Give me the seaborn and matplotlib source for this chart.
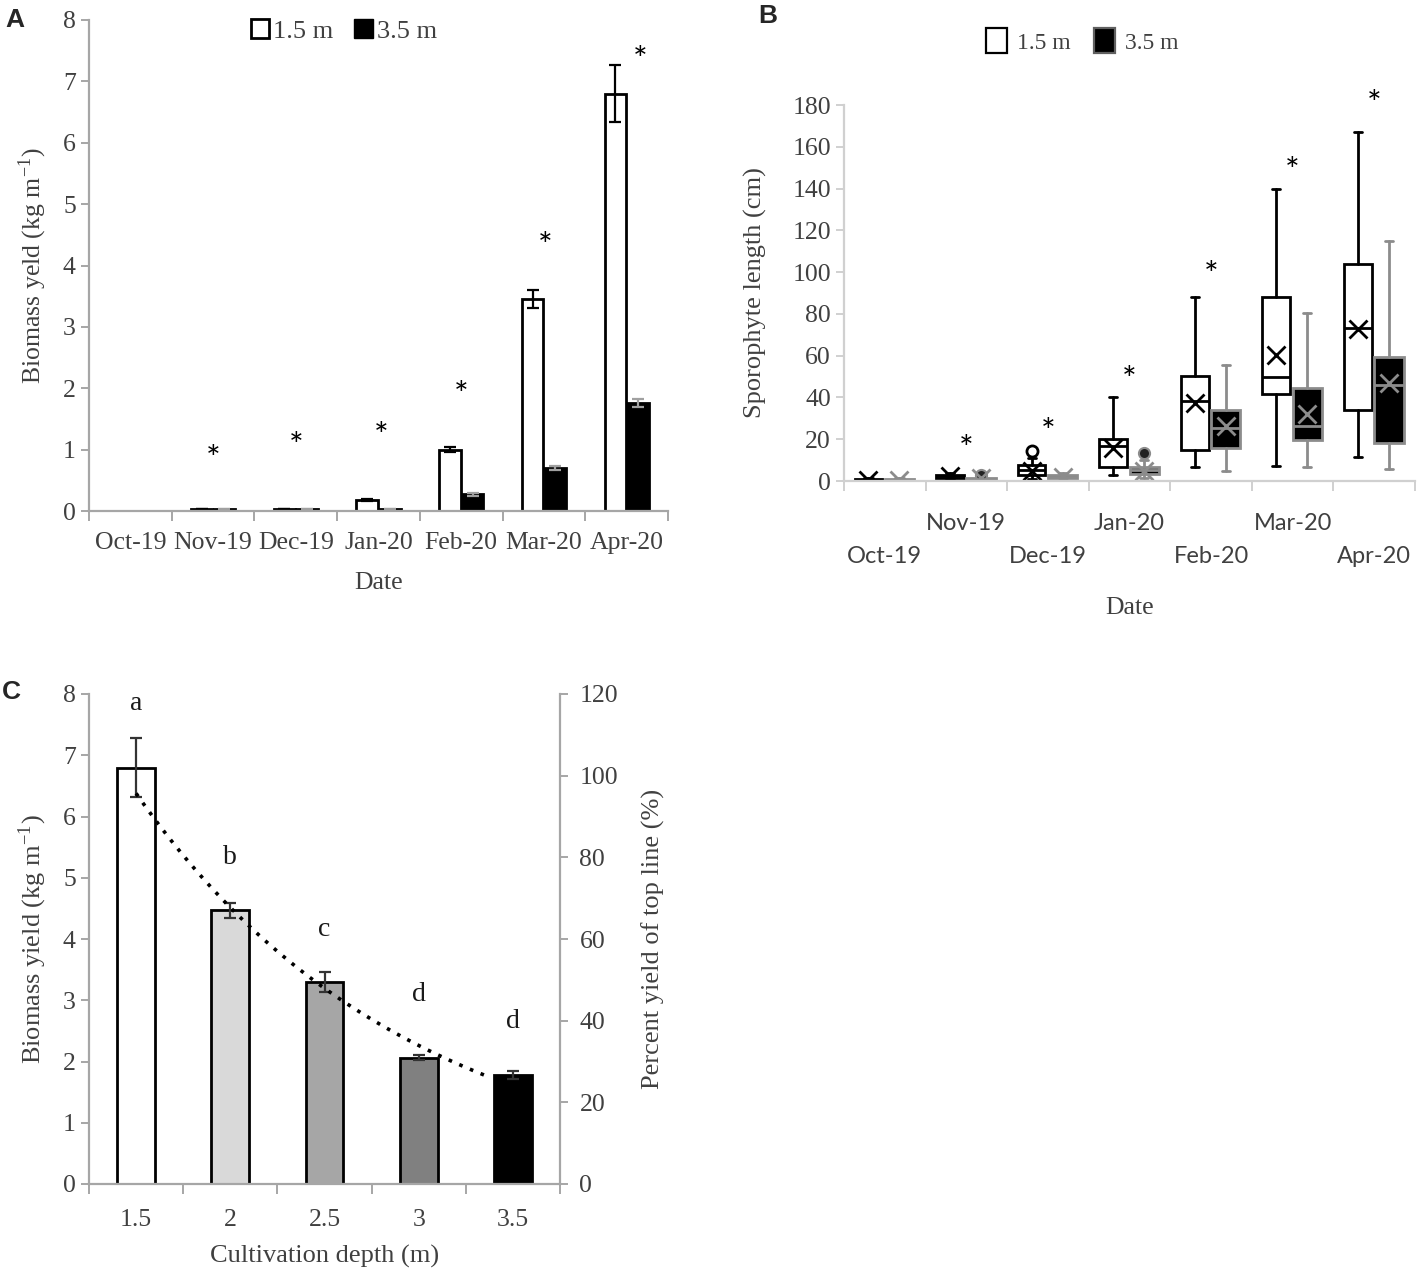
import numpy as np
import pandas as pd
import matplotlib
matplotlib.use("Agg")
import matplotlib.pyplot as plt
import seaborn as sns
from matplotlib.patches import Patch

# ---------------- data ----------------
months = ["Oct-19", "Nov-19", "Dec-19", "Jan-20", "Feb-20", "Mar-20", "Apr-20"]
depths = ["1.5 m", "3.5 m"]

# panel A: biomass yield per month (kg m-1)
yield_15 = [0.0, 0.03, 0.03, 0.18, 1.00, 3.45, 6.80]
yield_35 = [0.0, 0.03, 0.03, 0.03, 0.27, 0.70, 1.76]
err_15 = [0.0, 0.005, 0.005, 0.01, 0.04, 0.15, 0.47]
err_35 = [0.0, 0.005, 0.005, 0.005, 0.02, 0.03, 0.06]
star_a = [np.nan, 0.83, 1.05, 1.20, 1.88, 4.30, 7.33]

# panel B: sporophyte length box stats (cm)
lo_15 = [0.0, 0.5, 1.0, 2.9, 6.8, 7.3, 11.6]
q1_15 = [0.2, 1.5, 3.0, 6.5, 14.9, 41.7, 34.0]
med_15 = [0.5, 2.2, 5.4, 16.8, 38.2, 49.7, 73.2]
q3_15 = [1.0, 3.0, 7.8, 20.3, 50.5, 88.2, 104.0]
hi_15 = [1.5, 4.0, 11.0, 40.0, 88.2, 139.8, 167.0]
mean_15 = [0.7, 2.3, 5.0, 16.0, 37.5, 60.5, 73.0]
out_15 = [[], [], [14.5], [], [], [], []]

lo_35 = [0.0, 0.3, 0.5, 1.5, 4.9, 6.8, 5.7]
q1_35 = [0.2, 0.6, 1.2, 3.3, 15.7, 19.7, 18.4]
med_35 = [0.5, 1.0, 2.0, 5.2, 25.5, 26.3, 45.9]
q3_35 = [1.0, 1.5, 3.0, 6.8, 34.0, 44.6, 59.2]
hi_35 = [1.5, 2.0, 4.0, 10.0, 55.5, 80.3, 115.0]
mean_35 = [0.6, 1.2, 2.0, 5.0, 26.3, 32.2, 47.0]
out_35 = [[], [2.8], [], [13.2], [], [], []]

star_b = [np.nan, 15, 23, 48, 98, 148, 180]

# panel C: yield by cultivation depth
depth_c = ["1.5", "2", "2.5", "3", "3.5"]
yield_c = [6.80, 4.47, 3.30, 2.06, 1.78]
err_c = [0.48, 0.12, 0.16, 0.04, 0.07]
letters_c = ["a", "b", "c", "d", "d"]
letter_y = [7.85, 5.33, 4.16, 3.09, 2.66]

# ---------------- style ----------------
sns.set_theme(style="ticks")
SERIF = ["Liberation Serif", "DejaVu Serif"]
SANS = ["Lato", "DejaVu Sans"]
plt.rcParams["font.family"] = SERIF
plt.rcParams["mathtext.fontset"] = "stix"
TXT = "#404040"
SPINE = "#a6a6a6"

W, H = 1417, 1270
fig = plt.figure(figsize=(W / 100, H / 100), dpi=100)


def box(l, r, t, b):
    return [l / W, 1 - b / H, (r - l) / W, (b - t) / H]


def style_axis(ax, spine=SPINE):
    for s in ["top", "right"]:
        ax.spines[s].set_visible(False)
    for s in ["left", "bottom"]:
        ax.spines[s].set_color(spine)
        ax.spines[s].set_linewidth(1.6)
    ax.tick_params(axis="y", colors=spine, labelcolor=TXT, length=6, width=1.4)
    ax.tick_params(axis="x", which="major", length=0, labelcolor=TXT)
    ax.tick_params(axis="x", which="minor", length=7, width=1.4, color=spine)


# ---------------- panel A ----------------
axA = fig.add_axes(box(89, 668, 20, 511))
dfA = pd.DataFrame({
    "month": months * 2,
    "depth": [depths[0]] * 7 + [depths[1]] * 7,
    "yield": yield_15 + yield_35,
})
sns.barplot(data=dfA, x="month", y="yield", hue="depth", palette=["white", "black"],
            edgecolor="black", linewidth=2, width=0.55, gap=0.06, legend=False, ax=axA)
for cont, err, ec in zip(axA.containers, [err_15, err_35], ["black", "#a0a0a0"]):
    xs = [b.get_x() + b.get_width() / 2 for b in cont]
    ys = [b.get_height() for b in cont]
    axA.errorbar(xs[1:], ys[1:], yerr=err[1:], fmt="none", ecolor=ec,
                 elinewidth=1.6, capsize=4.5, capthick=1.6)
star_shift = [0, 0, 0, 0.03, 0, 0.02, 0.17]
for i, (s, dx) in enumerate(zip(star_a, star_shift)):
    if not np.isnan(s):
        axA.text(i + dx, s, "*", ha="center", va="center", fontsize=25,
                 family=SANS, color="black")
axA.set_ylim(0, 8)
axA.set_xlim(-0.5, 6.5)
axA.set_yticks(range(0, 9))
axA.set_xticks(np.arange(-0.5, 7), minor=True)
style_axis(axA)
axA.tick_params(axis="both", labelsize=18.5)
axA.tick_params(axis="x", which="major", pad=15)
axA.set_xlabel("Date", fontsize=18.5, color=TXT, labelpad=13)
axA.set_ylabel("Biomass yeld (kg m$^{\\mathregular{-1}}$)", fontsize=18.5, color=TXT, labelpad=10)
axA.legend(handles=[Patch(facecolor="white", edgecolor="black", linewidth=2, label=depths[0]),
                    Patch(facecolor="black", edgecolor="black", label=depths[1])],
           loc="upper center", bbox_to_anchor=(0.44, 1.05), ncol=2, frameon=False,
           fontsize=19, handlelength=0.7, handleheight=0.7, handletextpad=0.15,
           columnspacing=0.8, labelcolor=TXT)

# ---------------- panel B ----------------
axB = fig.add_axes(box(844, 1415, 105, 481))


def stats(lo, q1, med, q3, hi, mean, out):
    return [dict(whislo=a, q1=b, med=c, q3=d, whishi=e, mean=f, fliers=g)
            for a, b, c, d, e, f, g in zip(lo, q1, med, q3, hi, mean, out)]


pos = np.arange(len(months))
GR = "#8c8c8c"
axB.bxp(stats(lo_15, q1_15, med_15, q3_15, hi_15, mean_15, out_15), positions=pos - 0.2,
        widths=0.34, capwidths=0.1, patch_artist=True, showmeans=True, manage_ticks=False,
        boxprops=dict(facecolor="white", edgecolor="black", linewidth=2),
        whiskerprops=dict(color="black", linewidth=2), capprops=dict(color="black", linewidth=2),
        medianprops=dict(color="black", linewidth=2),
        meanprops=dict(marker="x", markeredgecolor="black", markersize=13, markeredgewidth=2),
        flierprops=dict(marker="o", markerfacecolor="white", markeredgecolor="black",
                        markersize=8, markeredgewidth=2))
axB.bxp(stats(lo_35, q1_35, med_35, q3_35, hi_35, mean_35, out_35), positions=pos + 0.18,
        widths=0.36, capwidths=0.1, patch_artist=True, showmeans=True, manage_ticks=False,
        boxprops=dict(facecolor="black", edgecolor=GR, linewidth=2),
        whiskerprops=dict(color=GR, linewidth=2), capprops=dict(color=GR, linewidth=2),
        medianprops=dict(color=GR, linewidth=2),
        meanprops=dict(marker="x", markeredgecolor=GR, markersize=13, markeredgewidth=2),
        flierprops=dict(marker="o", markerfacecolor="#222222", markeredgecolor=GR,
                        markersize=8, markeredgewidth=1.5))
for i, s in enumerate(star_b):
    if not np.isnan(s):
        axB.text(i, s, "*", ha="center", va="center", fontsize=25, family=SANS, color="black")
axB.set_ylim(0, 180)
axB.set_xlim(-0.5, 6.5)
axB.set_yticks(range(0, 181, 20))
axB.set_xticks(pos)
axB.set_xticklabels([("\n" if i % 2 == 0 else "") + m for i, m in enumerate(months)],
                    fontsize=17)
for lbl in axB.get_xticklabels():
    lbl.set_linespacing(1.7)
axB.set_xticks(np.arange(-0.5, 7), minor=True)
style_axis(axB, spine="#d0d0d0")
axB.tick_params(axis="y", labelsize=18.5, labelfontfamily="Liberation Serif")
axB.tick_params(axis="x", which="major", pad=23, labelfontfamily="Lato")
axB.set_xlabel("Date", fontsize=18.5, color=TXT, labelpad=22)
axB.set_ylabel("Sporophyte length (cm)", fontsize=19, color=TXT, labelpad=18)
fig.legend(handles=[Patch(facecolor="white", edgecolor="black", linewidth=1.6, label=depths[0]),
                    Patch(facecolor="black", edgecolor="#606060", linewidth=1.6, label=depths[1])],
           loc="center", bbox_to_anchor=(1082 / W, 1 - 41 / H), ncol=2, frameon=False,
           fontsize=17, handlelength=0.9, handleheight=1.2, handletextpad=0.4,
           columnspacing=1.0, labelcolor=TXT)

# ---------------- panel C ----------------
axC = fig.add_axes(box(89, 560, 694, 1184))
sns.barplot(x=depth_c, y=yield_c, hue=depth_c,
            palette=["white", "#d9d9d9", "#a6a6a6", "#808080", "black"],
            edgecolor="black", linewidth=2, width=0.4, legend=False, ax=axC)
xs_c = [b.get_x() + b.get_width() / 2 for b in axC.patches]
axC.errorbar(xs_c, yield_c, yerr=err_c, fmt="none", ecolor="#333333",
             elinewidth=1.6, capsize=4.5, capthick=1.6)
for x, t, y in zip(xs_c, letters_c, letter_y):
    axC.text(x, y, t, ha="center", va="center", fontsize=20, color="#1a1a1a")
axC.set_ylim(0, 8)
axC.set_xlim(-0.5, 4.5)
axC.set_yticks(range(0, 9))
axC.set_xticks(np.arange(-0.5, 5), minor=True)
style_axis(axC)
axC.tick_params(axis="both", labelsize=18.5)
axC.tick_params(axis="x", which="major", pad=18)
axC.set_xlabel("Cultivation depth (m)", fontsize=19, color=TXT, labelpad=10)
axC.set_ylabel("Biomass yield (kg m$^{\\mathregular{-1}}$)", fontsize=19, color=TXT, labelpad=10)

# percent of top line and exponential trend on right axis
pct = np.array(yield_c) / yield_c[0] * 100
idx = np.arange(len(pct))
k, c0 = np.polyfit(idx, np.log(pct), 1)
axR = axC.twinx()
xt = np.linspace(0, 3.7, 200)
axR.plot(xt, np.exp(c0 + k * xt), color="black", lw=2.6, ls=(0, (1, 2.2)))
axR.set_ylim(0, 120)
axR.set_yticks(range(0, 121, 20))
for s in ["top", "left", "bottom"]:
    axR.spines[s].set_visible(False)
axR.spines["right"].set_color(SPINE)
axR.spines["right"].set_linewidth(1.6)
axR.tick_params(axis="y", colors=SPINE, labelcolor=TXT, length=6, width=1.4,
                labelsize=18.5, pad=8)
axR.set_ylabel("Percent yield of top line (%)", fontsize=19, color=TXT, labelpad=17)

# panel letters
for lab, x, y in [("A", 5, 20), ("B", 758, 16), ("C", 2, 692)]:
    fig.text(x / W, 1 - y / H, lab, fontsize=19, fontweight="bold",
             family=["Liberation Sans", "DejaVu Sans"], va="center", ha="left")

fig.savefig("out.png", dpi=100)
